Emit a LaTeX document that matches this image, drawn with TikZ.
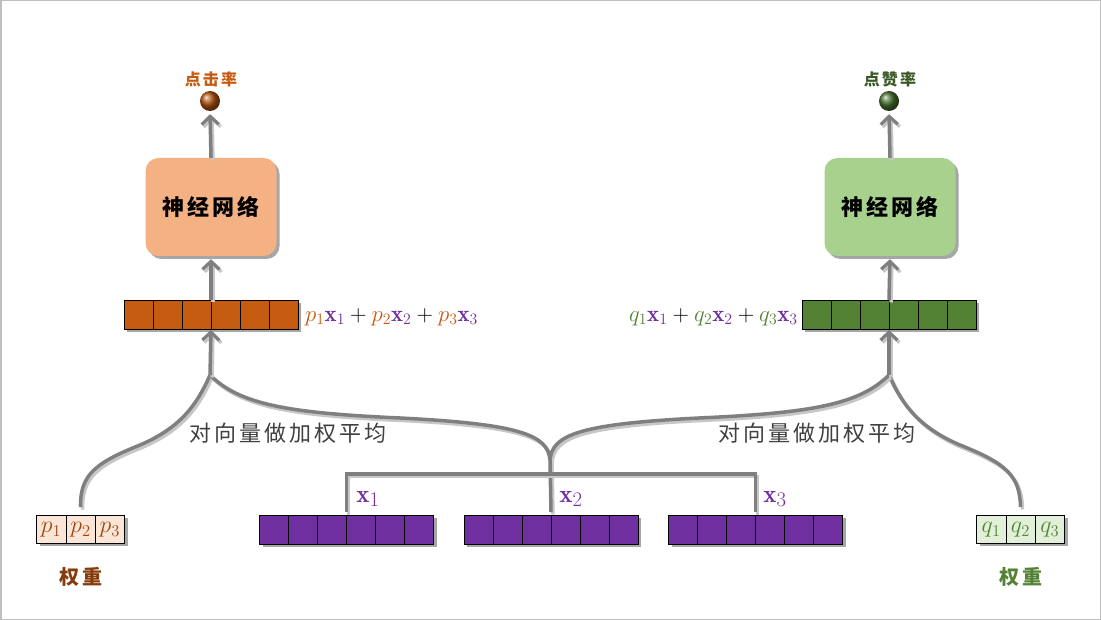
\documentclass[tikz,border=0pt]{standalone}
\usepackage{graphicx}
\usepackage{fontspec}
\newfontfamily\cjk{Noto Sans CJK SC}[LetterSpace=14]
\usetikzlibrary{arrows.meta,shadows,calc}
\definecolor{nnlc}{HTML}{F4B183}
\definecolor{nnrc}{HTML}{A9D18E}
\definecolor{vor}{HTML}{C55A11}
\definecolor{vgr}{HTML}{548235}
\definecolor{vpu}{HTML}{7030A0}
\definecolor{pbc}{HTML}{FBE5D6}
\definecolor{qbc}{HTML}{E2F0D9}
\definecolor{dgr}{HTML}{385723}
\definecolor{brn}{HTML}{843C0C}
\definecolor{conc}{HTML}{7F7F7F}
\definecolor{txg}{HTML}{404040}
\tikzset{
  shd/.style={drop shadow={shadow xshift=3pt, shadow yshift=-3pt, opacity=0.35, fill=black}},
  nnbox/.style={shd, rounded corners=13pt, minimum width=131pt, minimum height=98pt, inner sep=0pt, font=\cjk\fontsize{22}{24}\selectfont\bfseries},
  vecbox/.style={shd, draw=black, line width=0.8pt, minimum width=174pt, minimum height=29pt, inner sep=0pt, outer sep=0pt},
  wbox/.style={shd, draw=black, line width=0.6pt, minimum width=88pt, minimum height=28pt, inner sep=0pt, outer sep=0pt},
  cellline/.style={draw=black, line width=0.8pt},
  wcell/.style={inner sep=0pt, font=\fontsize{20.74}{23}\selectfont},
  conn/.style={draw=conc, line width=3.5pt,
    preaction={draw=black!22, line width=3.5pt, transform canvas={xshift=2pt, yshift=-2.5pt}}},
  arr/.style={conn, -{Straight Barb[length=8pt, width=17pt, line width=3.2pt]}},
  ballnode/.style={circle, shade, minimum size=20pt, inner sep=0pt},
  toplabel/.style={font=\cjk\fontsize{16}{18}\selectfont\bfseries},
  avg/.style={font=\cjk\fontsize{22}{24}\selectfont, text=txg},
  xlab/.style={text=vpu, font=\fontsize{24.88}{26}\selectfont},
  wlab/.style={font=\cjk\fontsize{20}{22}\selectfont\bfseries},
  mathlab/.style={font=\fontsize{20.74}{23}\selectfont, inner sep=0pt}
}
\begin{document}
\begin{tikzpicture}[x=1pt, y=-1pt]
\useasboundingbox (0,0) rectangle (1101,620);
\fill[white] (0,0) rectangle (1101,620);
\draw[black!25, line width=1.5pt] (0.75,0.75) rectangle (1100.25,619.25);

% neural network boxes
\node[nnbox, fill=nnlc] (nnl) at (211,207) {神经网络};
\node[nnbox, fill=nnrc] (nnr) at (890,207) {神经网络};

% output balls
\node[ballnode, ball color=vor!90!black] (bl) at (210,101) {};
\node[ballnode, ball color=vgr!85!black] (br) at (889,101) {};
\node[toplabel, text=vor] (tl) at (211,79) {点击率};
\node[toplabel, text=dgr] (tr) at (890,79) {点赞率};

% weighted vectors
\node[vecbox, fill=vor] (vl) at (211,314.5) {};
\node[vecbox, fill=vgr] (vr) at (889,314.5) {};
\foreach \v in {vl,vr}{
  \foreach \i in {1,...,5}
    \draw[cellline] ($(\v.north west)!\i/6!(\v.north east)$) -- ($(\v.south west)!\i/6!(\v.south east)$);
}
\node[mathlab, anchor=west] (ml) at (305,317) {\scalebox{1.1}{$\textcolor{vor}{p_1}\textcolor{vpu}{\mathbf{x}_1}+\textcolor{vor}{p_2}\textcolor{vpu}{\mathbf{x}_2}+\textcolor{vor}{p_3}\textcolor{vpu}{\mathbf{x}_3}$}};
\node[mathlab, anchor=east] (mr) at (798,317) {\scalebox{1.1}{$\textcolor{vgr}{q_1}\textcolor{vpu}{\mathbf{x}_1}+\textcolor{vgr}{q_2}\textcolor{vpu}{\mathbf{x}_2}+\textcolor{vgr}{q_3}\textcolor{vpu}{\mathbf{x}_3}$}};

% input vectors
\node[vecbox, fill=vpu] (vx1) at (346.5,529.5) {};
\node[vecbox, fill=vpu] (vx2) at (551,529.5) {};
\node[vecbox, fill=vpu] (vx3) at (755.5,529.5) {};
\foreach \v in {vx1,vx2,vx3}{
  \foreach \i in {1,...,5}
    \draw[cellline] ($(\v.north west)!\i/6!(\v.north east)$) -- ($(\v.south west)!\i/6!(\v.south east)$);
}
\node[xlab] (lx1) at (368,499) {$\mathbf{x}_1$};
\node[xlab] (lx2) at (571,499) {$\mathbf{x}_2$};
\node[xlab] (lx3) at (775,499) {$\mathbf{x}_3$};

% weight boxes
\node[wbox, fill=pbc] (pw) at (80.5,529) {};
\node[wbox, fill=qbc] (qw) at (1020.5,529) {};
\foreach \v in {pw,qw}{
  \foreach \i in {1,2}
    \draw[black, line width=0.6pt] ($(\v.north west)!\i/3!(\v.north east)$) -- ($(\v.south west)!\i/3!(\v.south east)$);
}
\node[wcell, text=vor!80!black] (p1) at ($(pw.center)+(-29.3,1)$) {\scalebox{1.15}{$p_1$}};
\node[wcell, text=vor!80!black] (p2) at ($(pw.center)+(0,1)$) {\scalebox{1.15}{$p_2$}};
\node[wcell, text=vor!80!black] (p3) at ($(pw.center)+(29.3,1)$) {\scalebox{1.15}{$p_3$}};
\node[wcell, text=vgr] (q1) at ($(qw.center)+(-29.3,1)$) {\scalebox{1.15}{$q_1$}};
\node[wcell, text=vgr] (q2) at ($(qw.center)+(0,1)$) {\scalebox{1.15}{$q_2$}};
\node[wcell, text=vgr] (q3) at ($(qw.center)+(29.3,1)$) {\scalebox{1.15}{$q_3$}};
\node[wlab, text=brn] (wl) at (81,577) {权重};
\node[wlab, text=vgr] (wr) at (1021,577) {权重};

% labels for averaging
\node[avg] (al1) at (288,433) {对向量做加权平均};
\node[avg] (al2) at (817,433) {对向量做加权平均};

% connector coordinates
\coordinate (al) at (210,375);
\coordinate (ar) at (889,375);
\coordinate (m) at (550,460);
\coordinate (h) at (0,474);

% connectors
\draw[conn] ($(pw.north)+(0,-8)$) .. controls (80,475) and (95,463) .. (140,445) .. controls (180,428) and (197,405) .. (al);
\draw[conn] (al) .. controls (240,405) and (290,413) .. (400,418) .. controls (520,424) and (548,435) .. (m);
\draw[conn] ($(qw.north)+(0,-8)$) .. controls (1020,475) and (1005,463) .. (960,445) .. controls (920,428) and (902,405) .. (ar);
\draw[conn] (ar) .. controls (859,405) and (809,413) .. (699,418) .. controls (579,424) and (552,435) .. (m);
\draw[conn] (m) -- ($(vx2.north)+(0,-3)$);
\draw[conn] ($(vx1.north)+(0,-3)$) -- (vx1.north |- h) -- (vx3.north |- h) -- ($(vx3.north)+(0,-3)$);

\draw[arr, shorten >=1pt] (al) -- (vl.south);
\draw[arr, shorten >=1pt] (ar) -- (vr.south);
\draw[arr, shorten >=3pt] (vl.north) -- (nnl.south);
\draw[arr, shorten >=3pt] (vr.north) -- (nnr.south);
\draw[arr, shorten >=3pt] (nnl.north) -- (bl.south);
\draw[arr, shorten >=3pt] (nnr.north) -- (br.south);
\end{tikzpicture}
\end{document}
